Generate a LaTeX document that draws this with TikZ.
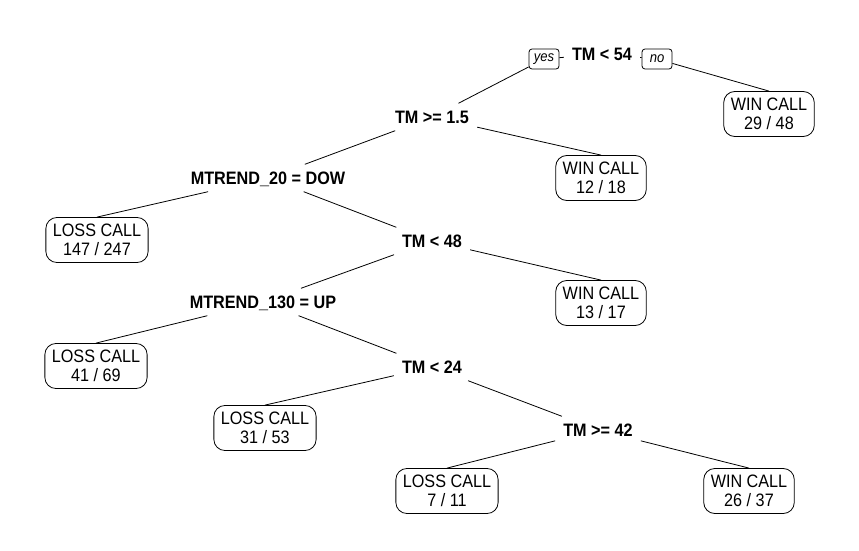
\documentclass[tikz,border=0pt]{standalone}
\usepackage{fontspec}
\setmainfont[FakeStretch=0.9]{Liberation Sans}
\tikzset{
  splitlabel/.style={font=\fontsize{18}{18}\selectfont\bfseries, inner xsep=8pt, inner ysep=7pt, text height=13pt, text depth=0pt},
  leafbox/.style={draw, line width=0.8pt, rounded corners=11pt, align=center, font=\fontsize{18}{18.5}\selectfont, inner xsep=7pt, minimum height=45pt},
  yesno/.style={draw, line width=0.8pt, rounded corners=3pt, font=\fontsize{14.5}{14.5}\selectfont\itshape, minimum width=30pt, minimum height=20pt, inner sep=0pt},
  branch/.style={line width=0.8pt}
}

\begin{document}
\begin{tikzpicture}[x=1pt, y=-1pt]
  \useasboundingbox (0,0) rectangle (859,551);

  % Root split and yes/no tags
  \node[splitlabel] (root) at (602,54) {TM < 54};
  \node[yesno] (yes) at (544,59) {yes};
  \node[yesno] (no) at (657,59) {no};

  % Splits
  \node[splitlabel] (tm15) at (432,117) {TM >= 1.5};
  \node[splitlabel] (mt20) at (268,178) {MTREND\_20 = DOW};
  \node[splitlabel] (tm48) at (432,241) {TM < 48};
  \node[splitlabel] (mt130) at (263,302) {MTREND\_130 = UP};
  \node[splitlabel] (tm24) at (432,367) {TM < 24};
  \node[splitlabel] (tm42) at (598,430) {TM >= 42};

  % Leaves
  \node[leafbox] (win2948) at (769,114) {WIN CALL\\29 / 48};
  \node[leafbox] (win1218) at (601,178) {WIN CALL\\12 / 18};
  \node[leafbox] (loss147) at (97,240) {LOSS CALL\\147 / 247};
  \node[leafbox] (win1317) at (601,303) {WIN CALL\\13 / 17};
  \node[leafbox] (loss4169) at (96,366) {LOSS CALL\\41 / 69};
  \node[leafbox] (loss3153) at (265,428) {LOSS CALL\\31 / 53};
  \node[leafbox] (loss711) at (447,491) {LOSS CALL\\7 / 11};
  \node[leafbox] (win2637) at (749,491) {WIN CALL\\26 / 37};

  % Branches
  \draw[branch] (root) -- (yes);
  \draw[branch] (root) -- (no);
  \draw[branch] (yes) -- (tm15);
  \draw[branch] (no) -- (win2948.north);
  \draw[branch] (tm15) -- (mt20);
  \draw[branch] (tm15) -- (win1218.north);
  \draw[branch] (mt20) -- (loss147.north);
  \draw[branch] (mt20) -- (tm48);
  \draw[branch] (tm48) -- (mt130);
  \draw[branch] (tm48) -- (win1317.north);
  \draw[branch] (mt130) -- (loss4169.north);
  \draw[branch] (mt130) -- (tm24);
  \draw[branch] (tm24) -- (loss3153.north);
  \draw[branch] (tm24) -- (tm42);
  \draw[branch] (tm42) -- (loss711.north);
  \draw[branch] (tm42) -- (win2637.north);
\end{tikzpicture}
\end{document}
